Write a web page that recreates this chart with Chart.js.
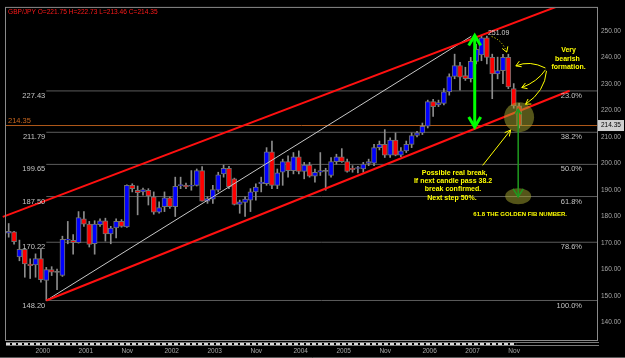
<!DOCTYPE html>
<html>
<head>
<meta charset="utf-8">
<title>GBP/JPY monthly</title>
<script src="https://cdn.jsdelivr.net/npm/chart.js@4.4.0/dist/chart.umd.min.js"></script>
<style>
  html, body { margin: 0; padding: 0; background: #000; }
  #wrap { width: 625px; height: 358px; }
</style>
</head>
<body>
<div id="wrap"><canvas id="chart" width="625" height="358"></canvas></div>
<script>
// GBP/JPY monthly candles (index 0 = first visible month)
const opens = [
  173.63, 174.11, 164.70, 167.56, 161.98, 161.61, 164.06, 155.77, 159.86, 158.90,
  157.63, 171.00, 170.91, 170.02, 179.09, 177.08, 169.64, 176.86, 178.35, 173.36,
  175.60, 178.09, 175.97, 191.74, 189.88, 189.25, 189.88, 187.39, 181.55, 183.67,
  187.02, 183.67, 191.60, 191.74, 191.40, 191.74, 197.32, 185.79, 186.53, 189.88,
  196.06, 198.18, 194.20, 184.53, 185.27, 186.16, 189.25, 192.34, 192.34, 204.39,
  191.74, 196.69, 200.67, 197.32, 202.53, 196.95, 199.41, 195.20, 196.69, 197.10,
  195.46, 200.67, 202.53, 200.67, 198.18, 198.10, 197.92, 200.04, 200.15, 205.99,
  207.22, 203.13, 208.85, 203.13, 204.76, 207.22, 210.57, 211.57, 214.06, 223.36,
  222.10, 222.73, 227.08, 232.89, 236.98, 233.26, 232.03, 238.62, 241.07, 247.54,
  240.10, 233.89, 235.12, 240.10, 228.31, 221.75
];
const highs = [
  177.30, 174.30, 171.02, 167.78, 163.95, 165.82, 167.67, 160.72, 160.98, 160.12,
  172.51, 178.09, 173.14, 181.81, 181.81, 178.09, 178.35, 179.09, 179.32, 176.23,
  179.09, 178.80, 191.97, 192.34, 191.48, 190.74, 190.48, 189.25, 185.53, 189.25,
  187.39, 194.83, 194.83, 192.60, 197.32, 197.92, 198.81, 187.39, 191.74, 196.69,
  199.41, 198.92, 194.46, 186.16, 187.39, 190.48, 192.34, 194.83, 205.99, 208.48,
  197.92, 201.64, 202.90, 204.13, 204.76, 200.41, 200.41, 197.92, 204.13, 198.18,
  202.27, 203.50, 205.62, 201.64, 199.18, 198.92, 200.41, 201.64, 207.22, 208.48,
  212.80, 209.71, 211.57, 205.99, 208.48, 211.57, 212.20, 215.29, 223.96, 224.22,
  223.96, 228.31, 233.89, 241.33, 238.24, 236.38, 240.10, 245.05, 248.14, 248.14,
  241.33, 240.20, 241.30, 241.30, 230.20, 222.73
];
const lows = [
  172.14, 169.53, 163.21, 156.99, 156.51, 156.99, 155.13, 148.20, 157.63, 152.31,
  157.30, 169.64, 165.70, 169.90, 176.23, 168.42, 165.70, 176.23, 170.65, 169.64,
  171.87, 175.90, 175.86, 189.25, 180.58, 188.02, 184.30, 180.80, 181.18, 181.81,
  183.04, 179.95, 190.48, 190.48, 189.88, 191.48, 185.79, 184.90, 184.90, 189.25,
  194.83, 190.48, 184.30, 181.18, 179.95, 181.81, 186.16, 189.25, 191.74, 190.48,
  190.48, 191.74, 194.83, 196.06, 196.06, 194.20, 194.83, 192.97, 195.46, 189.88,
  194.83, 199.78, 200.41, 196.69, 196.69, 196.43, 196.69, 199.18, 199.18, 205.13,
  202.27, 202.27, 202.90, 202.60, 204.13, 205.99, 210.08, 210.93, 213.43, 217.78,
  221.50, 222.10, 225.82, 232.03, 227.68, 231.40, 230.80, 237.60, 238.84, 237.60,
  224.50, 232.00, 230.20, 228.30, 220.90, 213.46
];
const closes = [
  174.37, 170.39, 167.56, 161.98, 161.35, 164.06, 156.03, 159.86, 158.86, 158.80,
  171.28, 171.30, 170.02, 179.58, 177.08, 169.42, 177.08, 178.35, 173.36, 175.60,
  178.09, 176.23, 191.74, 190.48, 188.99, 190.11, 187.76, 181.55, 183.30, 187.02,
  183.67, 191.37, 191.80, 191.11, 191.50, 197.32, 185.79, 186.76, 190.11, 195.69,
  198.18, 191.11, 184.53, 185.53, 186.53, 189.25, 191.11, 192.97, 204.39, 191.74,
  196.43, 200.67, 197.32, 202.53, 196.95, 199.41, 195.20, 196.69, 197.32, 197.00,
  200.67, 202.53, 200.67, 196.95, 197.69, 198.20, 199.78, 200.67, 205.99, 207.22,
  203.13, 208.85, 203.13, 204.76, 207.22, 210.57, 211.57, 214.06, 223.36, 221.50,
  222.99, 227.08, 232.89, 236.98, 232.66, 232.03, 238.62, 243.19, 247.54, 240.10,
  233.89, 235.12, 240.10, 228.94, 221.80, 214.35
];

// time axis labels (candle index where each label starts)
const xTickIdx = [5, 13, 21, 29, 37, 45, 53, 61, 69, 77, 85, 93];
const xTickText = ['2000', '2001', 'Nov', '2002', '2003', 'Nov', '2004', '2005', 'Nov', '2006', '2007', 'Nov'];
const yTicks = [140, 150, 160, 170, 180, 190, 200, 210, 220, 230, 240, 250];
const slots = 110;            // visible bar slots incl. empty space on the right
const yMin = 133.26, yMax = 258.82;

// fibonacci retracement drawn from the 2000 low to the 2007 high
const fibHigh = 251.09;
const fibStart = 7;
const fibPct = ['23.0%', '38.2%', '50.0%', '61.8%', '78.6%', '100.0%'];
const fibLevels = [227.43, 211.79, 199.65, 187.50, 170.22, 148.20];

// trend lines: [candle index, price]
const upperChannel = [[-1.1, 179.8], [105, 261.6]];
const lowerChannel = [[7, 148.2], [104.4, 227.5]];
const diagLine = [[7, 148.2], [86.1, 248.1]];

const last = closes.length - 1;
const header = 'GBP/JPY O=' + opens[last].toFixed(2) + ' H=' + highs[last].toFixed(2) +
  ' L=' + lows[last].toFixed(2) + ' C=' + closes[last].toFixed(2);

const FONT = '"Liberation Sans", Arial, sans-serif';
const BULL = '#0000ff', BEAR = '#ff0000';

function seg(pts) { return pts.map(p => ({ x: p[0], y: p[1] })); }

const datasets = [];
datasets.push({
  label: 'wick', type: 'bar', order: 6,
  data: highs.map((h, i) => ({ x: i, y: [lows[i], h] })),
  backgroundColor: '#8c8c8c', barThickness: 1, grouped: false
});
datasets.push({
  label: 'body', type: 'bar', order: 5,
  data: opens.map((o, i) => ({ x: i, y: [o, closes[i]] })),
  backgroundColor: opens.map((o, i) => closes[i] > o ? BULL : (closes[i] < o - 0.3 ? BEAR : '#808080')),
  borderColor: '#707070', borderWidth: 1, borderSkipped: false,
  barThickness: 5, minBarLength: 1, grouped: false
});
fibLevels.forEach((lv, k) => {
  datasets.push({
    label: 'fib ' + fibPct[k], type: 'line', order: 9,
    data: [{ x: fibStart, y: lv }, { x: slots - 0.5, y: lv }],
    borderColor: '#5c5c5c', borderWidth: 1, pointRadius: 0
  });
});
datasets.push({
  label: 'last', type: 'line', order: 8,
  data: [{ x: -0.5, y: closes[last] }, { x: slots - 0.5, y: closes[last] }],
  borderColor: '#b0591a', borderWidth: 1, pointRadius: 0
});
datasets.push({
  label: 'diag', type: 'line', order: 3,
  data: seg(diagLine), borderColor: '#c8c8c8', borderWidth: 1, pointRadius: 0
});
datasets.push({
  label: 'upper', type: 'line', order: 2,
  data: seg(upperChannel), borderColor: '#ff1010', borderWidth: 2, pointRadius: 0,
  clip: { left: 4, top: 0, right: 0, bottom: 0 }
});
datasets.push({
  label: 'lower', type: 'line', order: 2,
  data: seg(lowerChannel), borderColor: '#ff1010', borderWidth: 2, pointRadius: 0
});

function arrowHead(ctx, tx, ty, fx, fy, len, half) {
  const a = Math.atan2(ty - fy, tx - fx);
  const bx = tx - len * Math.cos(a), by = ty - len * Math.sin(a);
  ctx.beginPath();
  ctx.moveTo(bx + half * Math.sin(a), by - half * Math.cos(a));
  ctx.lineTo(tx, ty);
  ctx.lineTo(bx - half * Math.sin(a), by + half * Math.cos(a));
  ctx.stroke();
}

// annotations, anchored in [candle index, price]
const notes = [
  { t: 'Very', at: [104.2, 242.8] },
  { t: 'bearish', at: [104.0, 239.6] },
  { t: 'formation.', at: [104.2, 236.5] },
  { t: 'Possible real break,', at: [83.0, 196.3] },
  { t: 'If next candle pass 38.2', at: [82.7, 193.3] },
  { t: 'break confirmed.', at: [82.7, 190.2] },
  { t: 'Next step 50%.', at: [82.5, 187.0] }
];
const curves = [
  [[99.9, 236.1], [97.0, 239.1], [94.4, 236.9]],
  [[99.9, 235.4], [98.4, 230.9], [95.5, 228.7]],
  [[100.1, 235.0], [99.8, 227.2], [96.2, 222.4]]
];

const overlay = {
  id: 'overlay',
  beforeDraw(chart) {
    const ctx = chart.ctx;
    ctx.save();
    ctx.fillStyle = '#000';
    ctx.fillRect(0, 0, chart.width, chart.height);
    ctx.restore();
  },
  afterDatasetsDraw(chart) {
    const ctx = chart.ctx, xs = chart.scales.x, ys = chart.scales.y;
    const P = (p) => [xs.getPixelForValue(p[0]), ys.getPixelForValue(p[1])];
    const ca = chart.chartArea;
    ctx.save();

    // fib labels
    ctx.font = '7.5px ' + FONT;
    ctx.fillStyle = '#c4c4c4';
    ctx.textBaseline = 'middle';
    const fx = xs.getPixelForValue(fibStart);
    fibLevels.forEach((lv, k) => {
      const y = ys.getPixelForValue(lv) + 5;
      ctx.textAlign = 'right';
      ctx.fillText(lv.toFixed(2), fx - 1, y);
      ctx.fillText(fibPct[k], ca.right - 15, y);
    });
    ctx.textAlign = 'left';
    ctx.fillStyle = '#d0d0d0';
    ctx.font = '7px ' + FONT;
    const hp = P([89.2, 249.4]);
    ctx.fillText(fibHigh.toFixed(2), hp[0], hp[1]);
    ctx.fillStyle = '#c8661e';
    ctx.font = '7.5px ' + FONT;
    ctx.fillText(closes[last].toFixed(2), ca.left + 2, ys.getPixelForValue(closes[last]) - 5);

    // olive highlight circles
    ctx.fillStyle = 'rgba(170,170,50,0.5)';
    let c = P([95.0, 217.5]);
    ctx.beginPath(); ctx.arc(c[0], c[1], 15, 0, Math.PI * 2); ctx.fill();
    c = P([94.83, 187.6]);
    ctx.beginPath(); ctx.ellipse(c[0], c[1], 13, 8, 0, 0, Math.PI * 2); ctx.fill();

    // big green double arrow (height of the drop)
    ctx.strokeStyle = '#00ff00';
    ctx.lineWidth = 3;
    let a = P([86.74, 248.4]), b = P([86.74, 213.8]);
    ctx.beginPath(); ctx.moveTo(a[0], a[1]); ctx.lineTo(b[0], b[1]); ctx.stroke();
    arrowHead(ctx, a[0], a[1], b[0], b[1], 10, 6);
    arrowHead(ctx, b[0], b[1], a[0], a[1], 10, 6);

    // thin green target arrow
    ctx.strokeStyle = '#1f9a1f';
    ctx.lineWidth = 1.5;
    a = P([94.83, 220.5]); b = P([94.83, 187.4]);
    ctx.beginPath(); ctx.moveTo(a[0], a[1]); ctx.lineTo(b[0], b[1]); ctx.stroke();
    arrowHead(ctx, b[0], b[1], a[0], a[1], 8, 5);
    arrowHead(ctx, a[0], a[1], b[0], b[1], 5, 3);

    // yellow arrows
    ctx.strokeStyle = '#ffff00';
    ctx.lineWidth = 1;
    curves.forEach(cv => {
      const s = P(cv[0]), k = P(cv[1]), e = P(cv[2]);
      ctx.beginPath(); ctx.moveTo(s[0], s[1]); ctx.quadraticCurveTo(k[0], k[1], e[0], e[1]); ctx.stroke();
      arrowHead(ctx, e[0], e[1], k[0], k[1], 5, 3);
    });
    a = P([88.23, 199.3]); b = P([93.44, 212.7]);
    ctx.beginPath(); ctx.moveTo(a[0], a[1]); ctx.lineTo(b[0], b[1]); ctx.stroke();
    arrowHead(ctx, b[0], b[1], a[0], a[1], 6, 3);
    // dotted arrow from the high label
    ctx.setLineDash([1, 2]);
    a = P([89.9, 248.0]); const k2 = P([91.9, 246.5]); b = P([92.7, 242.1]);
    ctx.beginPath(); ctx.moveTo(a[0], a[1]); ctx.quadraticCurveTo(k2[0], k2[1], b[0], b[1]); ctx.stroke();
    ctx.setLineDash([]);
    arrowHead(ctx, b[0], b[1], k2[0], k2[1], 5, 3);

    // yellow texts
    ctx.fillStyle = '#ffff00';
    ctx.font = 'bold 7px ' + FONT;
    ctx.textAlign = 'center';
    notes.forEach(n => { const p = P(n.at); ctx.fillText(n.t, p[0], p[1]); });
    ctx.font = 'bold 6px ' + FONT;
    const g = P([95.2, 180.7]);
    ctx.fillText('61.8 THE GOLDEN FIB NUMBER.', g[0], g[1]);
    ctx.restore();
  },
  afterDraw(chart) {
    const ctx = chart.ctx, ca = chart.chartArea, ys = chart.scales.y;
    ctx.save();
    // frame
    ctx.strokeStyle = '#8a8a8a';
    ctx.lineWidth = 1;
    ctx.strokeRect(ca.left - 0.5, ca.top - 0.5, ca.right - ca.left + 1, ca.bottom - ca.top + 1);
    // scroll bar under the plot
    ctx.strokeStyle = '#7a7a7a';
    ctx.beginPath();
    ctx.moveTo(ca.left, 342.5); ctx.lineTo(ca.right + 2, 342.5);
    ctx.moveTo(ca.left, 345.5); ctx.lineTo(ca.right + 2, 345.5);
    ctx.stroke();
    ctx.strokeStyle = '#d8d8d8';
    ctx.lineWidth = 2;
    ctx.setLineDash([4, 2]);
    ctx.beginPath();
    ctx.moveTo(ca.left, 344); ctx.lineTo(chart.scales.x.getPixelForValue(last) - 3, 344);
    ctx.stroke();
    ctx.setLineDash([]);
    ctx.strokeStyle = '#5a5a5a';
    ctx.lineWidth = 1;
    ctx.beginPath(); ctx.moveTo(0, 357.5); ctx.lineTo(chart.width, 357.5); ctx.stroke();
    // current price box on the price scale
    const py = ys.getPixelForValue(closes[last]);
    ctx.fillStyle = '#cfcfcf';
    ctx.fillRect(ca.right + 1, py - 5.5, 26, 11);
    ctx.fillStyle = '#000';
    ctx.font = '6.5px ' + FONT;
    ctx.textBaseline = 'middle';
    ctx.textAlign = 'left';
    ctx.fillText(closes[last].toFixed(2), ca.right + 4, py);
    // header
    ctx.fillStyle = '#ff1a1a';
    ctx.font = '6.6px ' + FONT;
    ctx.textBaseline = 'middle';
    ctx.fillText(header, ca.left + 2, ca.top + 4.5);
    ctx.restore();
  }
};

new Chart(document.getElementById('chart'), {
  type: 'bar',
  data: { datasets: datasets },
  options: {
    responsive: false,
    animation: false,
    devicePixelRatio: 1,
    layout: { padding: { left: 6, top: 3, right: 0, bottom: 0 } },
    plugins: { legend: { display: false }, tooltip: { enabled: false } },
    scales: {
      x: {
        type: 'linear', offset: false,
        min: -0.5, max: slots - 0.5,
        afterBuildTicks: s => { s.ticks = xTickIdx.map(v => ({ value: v })); },
        afterFit: s => { s.height = 18; },
        grid: { display: false, drawTicks: false, offset: false },
        border: { display: false },
        ticks: {
          autoSkip: false, maxRotation: 0, align: 'start', padding: 7,
          color: '#a8a8a8', font: { family: FONT, size: 6.5 },
          callback: (v, i) => xTickText[i]
        }
      },
      y: {
        type: 'linear', position: 'right',
        min: yMin, max: yMax,
        afterBuildTicks: s => { s.ticks = yTicks.map(v => ({ value: v })); },
        afterFit: s => { s.width = 28; },
        grid: { display: false, drawTicks: false },
        border: { display: false },
        ticks: {
          padding: 4, crossAlign: 'near',
          color: '#a8a8a8', font: { family: FONT, size: 6.5 },
          callback: v => v.toFixed(2)
        }
      }
    }
  },
  plugins: [overlay]
});
</script>
</body>
</html>
